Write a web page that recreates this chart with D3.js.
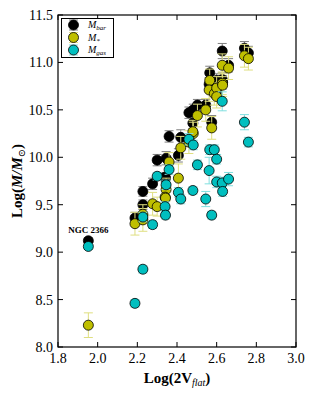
<!DOCTYPE html>
<html><head><meta charset="utf-8">
<script src="https://cdn.jsdelivr.net/npm/d3@7"></script>
<style>
html,body{margin:0;padding:0;background:#fff;}
svg{display:block;}
text{font-family:"Liberation Serif","DejaVu Serif",serif;fill:#000;}
</style></head>
<body>
<svg id="c" width="313" height="394"></svg>
<script>
// log(2 Vflat) per galaxy
const logV   = [1.953,2.188,2.228,2.228,2.277,2.300,2.345,2.340,2.342,2.360,2.407,2.419,2.460,2.482,2.480,2.503,2.545,2.565,2.562,2.575,2.588,2.600,2.600,2.628,2.628,2.630,2.660,2.740,2.760];
const mBar   = [9.12,9.36,9.64,9.50,9.72,9.97,9.99,9.79,9.78,10.22,10.02,10.21,10.47,10.50,10.36,10.55,10.55,10.89,10.77,10.37,10.77,10.81,10.69,11.12,10.82,10.79,10.97,11.15,11.10];
const mStar  = [8.23,9.30,9.40,9.34,9.51,9.48,9.66,9.58,9.57,9.95,9.78,10.10,10.16,10.25,10.27,10.44,10.50,10.81,10.71,10.31,10.67,10.73,10.64,10.97,10.78,10.76,10.94,11.07,11.04];
const mGas   = [9.06,8.46,9.37,8.82,9.29,9.80,9.71,9.48,9.39,9.87,9.63,9.56,10.19,10.13,9.65,9.92,9.56,10.08,9.86,9.39,10.08,9.98,9.74,10.59,9.73,9.64,9.77,10.37,10.16];
const eBar   = [0.03,0.06,0.05,0.05,0.06,0.06,0.07,0.05,0.05,0.06,0.07,0.08,0.06,0.06,0.06,0.06,0.06,0.07,0.07,0.07,0.07,0.07,0.07,0.08,0.07,0.07,0.07,0.07,0.07];
const eStar  = [0.13,0.12,0.10,0.12,0.12,0.10,0.12,0.12,0.10,0.10,0.15,0.12,0.12,0.12,0.12,0.12,0.12,0.12,0.12,0.12,0.12,0.12,0.12,0.12,0.12,0.12,0.12,0.12,0.12];
const eGas   = [0.03,0.04,0.05,0.04,0.04,0.04,0.05,0.05,0.04,0.05,0.05,0.05,0.06,0.05,0.04,0.05,0.08,0.05,0.14,0.04,0.05,0.05,0.06,0.10,0.06,0.05,0.07,0.08,0.05];
const xTicks = [1.8,2.0,2.2,2.4,2.6,2.8,3.0];
const yTicks = [8.0,8.5,9.0,9.5,10.0,10.5,11.0,11.5];
const seriesNames = ["bar","*","gas"];
const fillColors  = ["#000000","#bfbf00","#00bfbf"];
const errColors   = ["#808080","#dfdf80","#80dfdf"];

const L=58,R=296,T=15,B=347;
const x=d3.scaleLinear().domain([1.8,3.0]).range([L,R]);
const y=d3.scaleLinear().domain([8.0,11.5]).range([B,T]);
const svg=d3.select("#c");

const series=[[mBar,eBar],[mStar,eStar],[mGas,eGas]];
const cap=4.5, rad=5;
series.forEach(([vals,errs],si)=>{
  const g=svg.append("g");
  const data=vals.map((v,i)=>({x:logV[i],v,e:errs[i]}));
  const eg=g.append("g").attr("stroke",errColors[si]).attr("stroke-width",1).attr("fill","none");
  data.forEach(d=>{
    const cx=x(d.x), y1=y(d.v-d.e), y2=y(d.v+d.e);
    eg.append("line").attr("x1",cx).attr("x2",cx).attr("y1",y1).attr("y2",y2);
    eg.append("line").attr("x1",cx-cap).attr("x2",cx+cap).attr("y1",y1).attr("y2",y1);
    eg.append("line").attr("x1",cx-cap).attr("x2",cx+cap).attr("y1",y2).attr("y2",y2);
  });
  g.selectAll("circle").data(data).join("circle")
    .attr("cx",d=>x(d.x)).attr("cy",d=>y(d.v)).attr("r",rad)
    .attr("fill",fillColors[si]).attr("stroke","#000").attr("stroke-width",0.8);
});

// frame
svg.append("rect").attr("x",L).attr("y",T).attr("width",R-L).attr("height",B-T)
  .attr("fill","none").attr("stroke","#000").attr("stroke-width",1.2);

// ticks (inside, all four sides)
const tk=5;
const tg=svg.append("g").attr("stroke","#000").attr("stroke-width",1);
xTicks.forEach(t=>{
  tg.append("line").attr("x1",x(t)).attr("x2",x(t)).attr("y1",B).attr("y2",B-tk);
  tg.append("line").attr("x1",x(t)).attr("x2",x(t)).attr("y1",T).attr("y2",T+tk);
});
yTicks.forEach(t=>{
  tg.append("line").attr("x1",L).attr("x2",L+tk).attr("y1",y(t)).attr("y2",y(t));
  tg.append("line").attr("x1",R).attr("x2",R-tk).attr("y1",y(t)).attr("y2",y(t));
});
svg.append("g").selectAll("text").data(xTicks).join("text")
  .attr("x",d=>x(d)).attr("y",B+16).attr("text-anchor","middle").attr("font-size",14)
  .text(d=>d3.format(".1f")(d));
svg.append("g").selectAll("text").data(yTicks).join("text")
  .attr("x",L-5).attr("y",d=>y(d)+5).attr("text-anchor","end").attr("font-size",14)
  .text(d=>d3.format(".1f")(d));

// axis labels
const xl=svg.append("text").attr("x",(L+R)/2).attr("y",383).attr("text-anchor","middle")
  .attr("font-size",15).attr("font-weight","bold");
xl.append("tspan").text("Log(2V");
xl.append("tspan").attr("font-style","italic").attr("font-size",10).attr("dy",3).attr("font-weight","normal").text("flat");
xl.append("tspan").attr("dy",-3).text(")");

const yl=svg.append("text").attr("transform",`translate(22,${(T+B)/2}) rotate(-90)`)
  .attr("text-anchor","middle").attr("font-size",15).attr("font-weight","bold");
yl.append("tspan").text("Log(");
yl.append("tspan").attr("font-style","italic").text("M/M");
yl.append("tspan").attr("font-size",10).attr("dy",3).attr("font-weight","normal").text("⊙");
yl.append("tspan").attr("dy",-3).text(")");

// annotation
svg.append("text").attr("x",x(logV[0])).attr("y",y(mBar[0])-8).attr("text-anchor","middle")
  .attr("font-size",9).attr("font-weight","bold").text("NGC 2366");

// legend
const lg=svg.append("g");
lg.append("rect").attr("x",61.5).attr("y",18.5).attr("width",52).attr("height",39)
  .attr("fill","#fff").attr("stroke","#000").attr("stroke-width",1);
const rows=[25,37.5,50];
seriesNames.forEach((n,i)=>{
  const cx=73.5, cy=rows[i];
  lg.append("line").attr("x1",cx).attr("x2",cx).attr("y1",cy-5).attr("y2",cy+5).attr("stroke",errColors[i]);
  lg.append("line").attr("x1",cx-4.5).attr("x2",cx+4.5).attr("y1",cy-5).attr("y2",cy-5).attr("stroke",errColors[i]);
  lg.append("line").attr("x1",cx-4.5).attr("x2",cx+4.5).attr("y1",cy+5).attr("y2",cy+5).attr("stroke",errColors[i]);
  lg.append("circle").attr("cx",cx).attr("cy",cy).attr("r",rad).attr("fill",fillColors[i]).attr("stroke","#000").attr("stroke-width",0.8);
  const t=lg.append("text").attr("x",88).attr("y",cy+3).attr("font-size",10).attr("font-style","italic");
  t.append("tspan").text("M");
  t.append("tspan").attr("font-size",7).attr("dy",2).text(n);
});
</script>
</body></html>
